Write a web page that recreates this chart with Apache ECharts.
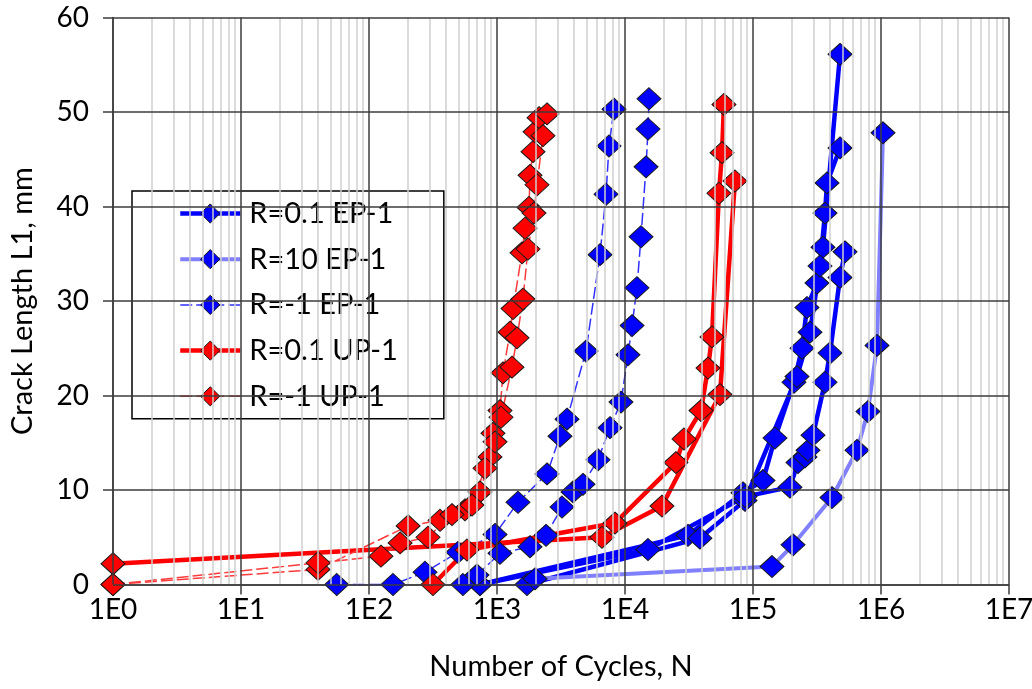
<!DOCTYPE html>
<html><head><meta charset="utf-8">
<script src="https://cdn.jsdelivr.net/npm/echarts@6/dist/echarts.min.js"></script>
<style>html,body{margin:0;padding:0;background:#fff}#c{width:1032px;height:689px}</style>
</head><body><div id="c"></div>
<script>
// ---- Data (N = number of cycles, L = crack length L1 in mm) ----
// R=0.1 EP-1 (three specimens)
const ep01aN = [736, 31050, 83500, 119700, 148500, 209000, 241500, 264000, 316000, 352000, 478500];
const ep01aL = [0, 5.2, 9.7, 11.0, 15.5, 21.4, 25.0, 29.3, 31.9, 35.7, 56.1];
const ep01bN = [1715, 38500, 86600, 220600, 278800, 333700, 365200, 378700, 478500];
const ep01bL = [0, 4.9, 8.9, 22.0, 26.7, 33.7, 39.3, 42.5, 46.2];
const ep01cN = [736, 15130, 86600, 194500, 224700, 254900, 269000, 294200, 365200, 399600, 478500, 523400];
const ep01cL = [0, 3.7, 9.3, 10.3, 12.9, 13.5, 14.2, 15.8, 21.4, 24.5, 32.5, 35.2];
// R=10 EP-1
const ep10N = [1982, 140700, 205400, 414000, 649400, 791000, 930600, 1037000];
const ep10L = [0.6, 1.9, 4.2, 9.2, 14.2, 18.3, 25.3, 47.8];
// R=-1 EP-1 (two specimens)
const epm1aN = [56, 154, 274, 496, 965, 1459, 2459, 3105, 3523, 4958, 6380, 7110, 7500, 8200];
const epm1aL = [0, 0, 1.3, 3.4, 5.3, 8.7, 11.7, 15.7, 17.5, 24.7, 34.9, 41.3, 46.4, 50.3];
const epm1bN = [542, 698, 1055, 1811, 2415, 3221, 3925, 4697, 6155, 7640, 9305, 10550, 11350, 12400, 13340, 14600, 15130, 15400];
const epm1bL = [0, 1.0, 3.3, 4.0, 5.2, 8.2, 9.8, 10.6, 13.2, 16.6, 19.3, 24.3, 27.4, 31.4, 36.8, 44.2, 48.2, 51.4];
// R=0.1 UP-1 (two specimens)
const up01aN = [1, 6610, 19450, 55200, 72300];
const up01aL = [2.2, 5.0, 8.3, 20.1, 42.7];
const up01bN = [316, 583, 8350, 25000, 28900, 39250, 44500, 47800, 54200, 57300, 59300];
const up01bL = [0, 3.65, 6.5, 12.9, 15.4, 18.4, 22.9, 26.2, 41.4, 45.7, 50.8];
// R=-1 UP-1 (two specimens)
const upm1aN = [1, 40, 202, 359, 562, 736, 881, 930, 1055, 1114, 1264, 1334, 1568, 1655, 1778, 1811, 1911, 1982, 2130];
const upm1aL = [0, 1.6, 6.2, 6.8, 7.9, 9.8, 13.5, 16.0, 18.4, 22.4, 26.7, 29.2, 35.1, 37.7, 39.9, 43.3, 45.8, 47.9, 49.4];
const upm1bN = [1, 40, 124, 175, 289, 445, 638, 806, 965, 1075, 1309, 1433, 1596, 1746, 1945, 2054, 2287, 2459];
const upm1bL = [0, 2.3, 3.0, 4.4, 5.0, 7.4, 8.4, 12.3, 15.1, 17.7, 23.0, 26.1, 30.2, 35.5, 39.3, 42.3, 47.5, 49.8];

const legendNames = ['R=0.1 EP-1', 'R=10 EP-1', 'R=-1 EP-1', 'R=0.1 UP-1', 'R=-1 UP-1'];
const xMin = 1, xMax = 1e7, yMin = 0, yMax = 60, yStep = 10;
const axisTitles = { x: 'Number of Cycles, N', y: 'Crack Length L1, mm' };

const FONT = 'Lato, "Noto Sans", sans-serif';

const styles = {
  'R=0.1 EP-1': { fill: '#0000ff', line: { color: '#0000ff', width: 4.5, type: 'solid' } },
  'R=10 EP-1': { fill: '#0000ff', line: { color: '#8080ff', width: 4, type: 'solid' } },
  'R=-1 EP-1': { fill: '#0000ff', line: { color: '#3030ff', width: 1.5, type: [12, 4] } },
  'R=0.1 UP-1': { fill: '#ff0000', line: { color: '#ff0000', width: 4.5, type: 'solid' } },
  'R=-1 UP-1': { fill: '#ff0000', line: { color: '#ff3a3a', width: 1.5, type: [12, 4] } }
};

function mk(name, N, L) {
  const s = styles[name];
  return {
    name: name, type: 'line', z: 3,
    data: N.map((n, i) => [n, L[i]]),
    symbol: 'diamond', symbolSize: [24, 22],
    itemStyle: { color: s.fill, borderColor: '#1a1a1a', borderWidth: 1 },
    lineStyle: s.line,
    emphasis: { disabled: true },
    animation: false
  };
}

// grid lines via markLine (minor light, major dark)
const minorX = [];
for (let k = 0; k < 7; k++) for (let m = 2; m <= 9; m++) minorX.push({ xAxis: m * Math.pow(10, k) });
const majorLines = [];
for (let k = 0; k <= 7; k++) majorLines.push({ xAxis: Math.pow(10, k) });
for (let v = yMin; v <= yMax; v += yStep) majorLines.push({ yAxis: v });

const gridSeries = [
  { type: 'line', data: [], z: 1, silent: true, animation: false,
    markLine: { silent: true, symbol: 'none', animation: false, label: { show: false },
      lineStyle: { color: '#cfcfcf', width: 1.5, type: 'solid' }, data: minorX } },
  { type: 'line', data: [], z: 1, silent: true, animation: false,
    markLine: { silent: true, symbol: 'none', animation: false, label: { show: false },
      lineStyle: { color: '#3c3c3c', width: 1.5, type: 'solid' }, data: majorLines } }
];

const series = gridSeries.concat([
  mk('R=0.1 EP-1', ep01aN, ep01aL),
  mk('R=0.1 EP-1', ep01bN, ep01bL),
  mk('R=0.1 EP-1', ep01cN, ep01cL),
  mk('R=10 EP-1', ep10N, ep10L),
  mk('R=-1 EP-1', epm1aN, epm1aL),
  mk('R=-1 EP-1', epm1bN, epm1bL),
  mk('R=0.1 UP-1', up01aN, up01aL),
  mk('R=0.1 UP-1', up01bN, up01bL),
  mk('R=-1 UP-1', upm1aN, upm1aL),
  mk('R=-1 UP-1', upm1bN, upm1bL)
]);

const legendItems = legendNames.map(n => ({
  name: n,
  itemStyle: { color: styles[n].fill, borderColor: '#1a1a1a', borderWidth: 1 },
  lineStyle: { color: styles[n].line.color, width: styles[n].line.width, type: styles[n].line.type }
}));

const chart = echarts.init(document.getElementById('c'), null, { renderer: 'canvas' });
chart.setOption({
  animation: false,
  backgroundColor: '#ffffff',
  textStyle: { fontFamily: FONT, color: '#000' },
  grid: { left: 113, right: 23, top: 17.5, bottom: 104.5, containLabel: false, outerBoundsMode: 'none' },
  legend: {
    data: legendItems, orient: 'vertical', left: 132, top: 191,
    itemWidth: 60, itemHeight: 24, itemGap: 16.7,
    padding: [8, 46, 8, 46],
    borderColor: '#000', borderWidth: 1.5, backgroundColor: '#fff',
    textStyle: { fontSize: 29, fontFamily: FONT, color: '#000', padding: [0, 0, 0, 4] },
    selectedMode: false
  },
  xAxis: {
    type: 'log', logBase: 10, min: xMin, max: xMax,
    name: axisTitles.x, nameLocation: 'middle', nameGap: 68,
    nameTextStyle: { fontSize: 29, fontFamily: FONT, color: '#000' },
    axisLine: { show: true, lineStyle: { color: '#3c3c3c', width: 1.5 } },
    axisTick: { show: true, inside: false, length: 10, lineStyle: { color: '#3c3c3c', width: 1.5 } },
    axisLabel: { fontSize: 28, fontFamily: FONT, color: '#000', margin: 11,
      formatter: v => '1E' + Math.round(Math.log10(v)) },
    splitLine: { show: false }, minorTick: { show: false }, minorSplitLine: { show: false }
  },
  yAxis: {
    type: 'value', min: yMin, max: yMax, interval: yStep,
    name: axisTitles.y, nameLocation: 'middle', nameGap: 76, nameRotate: 90,
    nameTextStyle: { fontSize: 29, fontFamily: FONT, color: '#000' },
    axisLine: { show: true, lineStyle: { color: '#3c3c3c', width: 1.5 } },
    axisTick: { show: true, inside: false, length: 10, lineStyle: { color: '#3c3c3c', width: 1.5 } },
    axisLabel: { fontSize: 28, fontFamily: FONT, color: '#000', margin: 24 },
    splitLine: { show: false }
  },
  series: series
});
</script></body></html>
